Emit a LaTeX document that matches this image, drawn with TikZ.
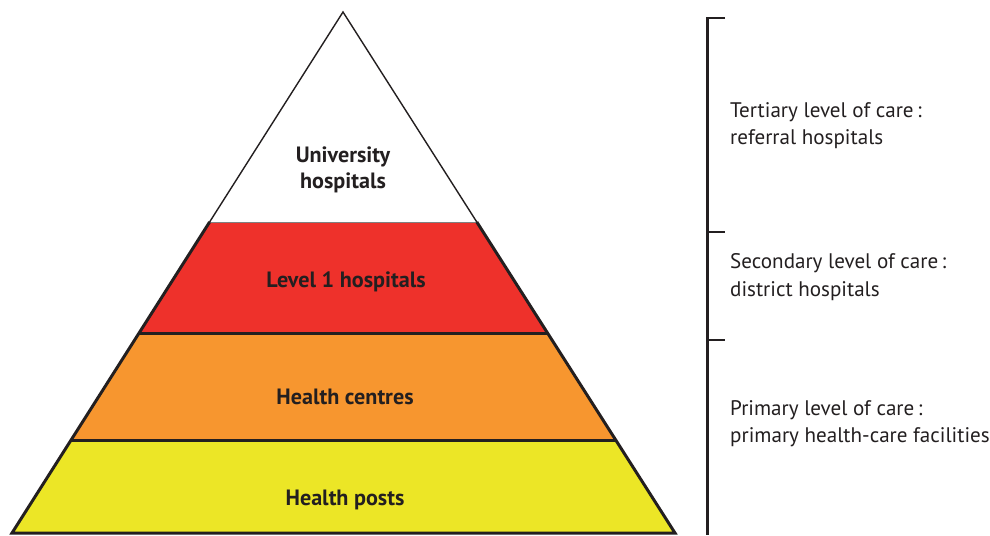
\documentclass[tikz,border=0pt]{standalone}
\usepackage{fontspec}
\setmainfont{PT Sans}
\definecolor{inkblack}{HTML}{231F20}
\definecolor{tierred}{HTML}{EE312B}
\definecolor{tierorange}{HTML}{F7962F}
\definecolor{tieryellow}{HTML}{ECE626}
\begin{document}
\begin{tikzpicture}[x=0.02cm,y=-0.02cm,
    layer/.style={font=\bfseries\fontsize{12.6}{14.5}\selectfont,text=inkblack,align=center},
    level/.style={font=\fontsize{12}{15.5}\selectfont,text=inkblack,align=left,anchor=west},
    edge/.style={draw=inkblack,line width=1.7pt},
    tick/.style={draw=inkblack,line width=1.6pt}]
    \useasboundingbox (0,0) rectangle (990,535);
    % pyramid
    \fill[tieryellow] (71.1,440) -- (12,533) -- (675,533) -- (615.7,440) -- cycle;
    \fill[tierorange] (139.1,333) -- (71.1,440) -- (615.7,440) -- (547.5,333) -- cycle;
    \fill[tierred] (209.6,222) -- (139.1,333) -- (547.5,333) -- (476.8,222) -- cycle;
    \draw[inkblack,line width=0.8pt,line join=miter] (209.6,222) -- (343,12) -- (476.8,222);
    \draw[gray,line width=0.4pt] (209.6,222) -- (476.8,222);
    \draw[edge] (209.6,222) -- (12,533) -- (675,533) -- (476.8,222);
    \draw[edge] (139.1,333) -- (547.5,333);
    \draw[edge] (71.1,440) -- (615.7,440);
    \node[layer](univ) at (343,170){University\\hospitals};
    \node[layer](lvl1) at (346,282){Level 1 hospitals};
    \node[layer](centres) at (345,397){Health centres};
    \node[layer](posts) at (345,500){Health posts};
    % bracket
    \draw[tick] (725,18) -- (707.5,18) -- (707.5,535);
    \draw[tick] (707.5,232) -- (725,232);
    \draw[tick] (707.5,340) -- (725,340);
    \node[level](tertiary) at (724,126){Tertiary level of care\,:\\referral hospitals};
    \node[level](secondary) at (724,277){Secondary level of care\,:\\district hospitals};
    \node[level](primary) at (724,424){Primary level of care\,:\\primary health-care facilities};
\end{tikzpicture}
\end{document}
